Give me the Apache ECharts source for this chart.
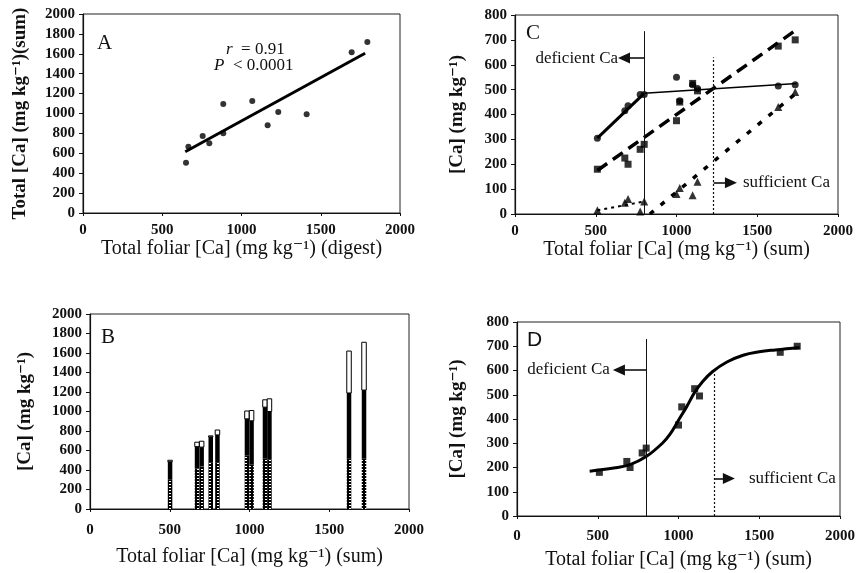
<!DOCTYPE html>
<html><head><meta charset="utf-8">
<script src="https://cdn.jsdelivr.net/npm/echarts@6/dist/echarts.min.js"></script>
<style>html,body{margin:0;padding:0;background:#fff}#c{width:859px;height:573px}</style>
</head><body><div id="c"></div>
<script>
// ---------- data ----------
// Panel A: total [Ca] by digest vs by sum
const aDigest = [650, 665, 755, 797, 885, 885, 1068, 1165, 1232, 1411, 1695, 1794];
const aSum    = [506, 667, 774, 700, 801, 1095, 1125, 881, 1015, 992, 1615, 1718];
const aFitX = [645, 1780];
const aFitY = [615, 1605];
// Panel B: bar positions (total foliar Ca, sum) and stacked fractions
const bBarX     = [502, 671, 700, 757, 799, 984, 1013, 1097, 1125, 1624, 1718];
// Panels C / D: samples
const sampleSum  = [510, 680, 700, 775, 800, 1000, 1020, 1100, 1130, 1630, 1735];
const caCircle   = [305, 415, 435, 480, 480, 550, 455, 520, 505, 515, 520];
const caSquare   = [180, 225, 200, 260, 280, 375, 450, 525, 495, 675, 700];
const caTriangle = [15, 45, 60, 10, 50, 80, 105, 75, 130, 430, 490];
// Panel C fitted lines
const cSolidThickX = [510, 800],  cSolidThickY = [305, 485];
const cSolidThinX  = [800, 1745], cSolidThinY  = [485, 525];
const cDashX = [510, 1730], cDashY = [175, 735];
const cDot1X = [510, 800],  cDot1Y = [15, 50];
const cDot2X = [835, 1730], cDot2Y = [0, 480];
// Panel D fitted curve
const dCurveX = [450, 600, 700, 800, 900, 950, 1000, 1050, 1100, 1150, 1210, 1300, 1400, 1500, 1600, 1750];
const dCurveY = [185, 198, 212, 245, 300, 340, 395, 450, 510, 555, 595, 635, 663, 677, 685, 695];
// thresholds and annotation anchors
const deficientCa = 800;
const sufficientCaC = 1230, sufficientCaD = 1220;
const cLineTop = [735, 630], dLineTop = [730, 610];
const cArrowDef = [675, 627], cArrowSuf = [1337, 126];
const dArrowDef = [631, 602], dArrowSuf = [1312, 155];
const xTickLabels = ['0', '500', '1000', '1500', '2000'];

// ---------- helpers ----------
const zip = (xs, ys) => xs.map((x, i) => [x, ys[i]]);
const SERIF = '"Liberation Serif", "DejaVu Serif", serif';

const pat = document.createElement('canvas');
pat.width = 4; pat.height = 3;
(function () {
  const g = pat.getContext('2d');
  g.fillStyle = '#000'; g.fillRect(0, 0, 4, 3);
  g.fillStyle = '#fff'; g.fillRect(1, 1, 2, 1);
})();

function xAx(gi, name, labelMargin, nameGap) {
  return {
    gridIndex: gi, type: 'value', min: 0, max: 2000, interval: 500,
    name: name, nameLocation: 'middle', nameGap: nameGap,
    nameTextStyle: { fontFamily: SERIF, fontSize: 20, color: '#111' },
    axisLine: { show: true, lineStyle: { color: '#111', width: 1.2 } },
    axisTick: { show: true, length: 3, lineStyle: { color: '#111' } },
    splitLine: { show: false },
    axisLabel: { margin: labelMargin, fontFamily: SERIF, fontWeight: 'bold', fontSize: 15, color: '#111',
      formatter: v => xTickLabels[Math.round(v / 500)] }
  };
}
function yAx(gi, name, max, interval, nameGap) {
  return {
    gridIndex: gi, type: 'value', min: 0, max: max, interval: interval,
    name: name, nameLocation: 'middle', nameGap: nameGap,
    nameTextStyle: { fontFamily: SERIF, fontSize: 19, fontWeight: 'bold', color: '#111' },
    axisLine: { show: true, lineStyle: { color: '#111', width: 1.2 } },
    axisTick: { show: true, length: 4, lineStyle: { color: '#111' } },
    splitLine: { show: false },
    axisLabel: { margin: 8, fontFamily: SERIF, fontWeight: 'bold', fontSize: 15, color: '#111',
      formatter: v => String(v) }
  };
}
const gridBase = { show: true, borderColor: '#222', borderWidth: 1, outerBoundsMode: 'none', containLabel: false };

function annot(xi, thrSolid, thrDot, tops, arrDef, arrSuf, defDist, sufDist) {
  const lbl = { show: true, fontFamily: SERIF, fontSize: 17, color: '#111' };
  const solid = { type: 'solid', width: 1, color: '#111' };
  const arrowLine = { type: 'solid', width: 1.6, color: '#111' };
  return {
    type: 'scatter', xAxisIndex: xi, yAxisIndex: xi, data: [], silent: true,
    color: '#111',
    markLine: {
      silent: true, animation: false, symbol: ['none', 'none'],
      lineStyle: { color: '#111' },
      itemStyle: { color: '#111' },
      data: [
        [{ coord: [thrSolid, 0], lineStyle: solid, label: { show: false } },
         { coord: [thrSolid, tops[0]] }],
        [{ coord: [thrDot, 0], lineStyle: { type: [2, 2], width: 1.2, color: '#111' }, label: { show: false } },
         { coord: [thrDot, tops[1]] }],
        [{ coord: [thrSolid, arrDef[1]], symbol: 'none', lineStyle: arrowLine, itemStyle: { color: '#111' },
           label: Object.assign({}, lbl, { position: 'end', distance: defDist, formatter: 'deficient Ca' }) },
         { coord: [arrDef[0], arrDef[1]], symbol: 'triangle', symbolSize: [11, 12], itemStyle: { color: '#111' } }],
        [{ coord: [thrDot, arrSuf[1]], symbol: 'none', lineStyle: arrowLine, itemStyle: { color: '#111' },
           label: Object.assign({}, lbl, { position: 'end', distance: sufDist, formatter: 'sufficient Ca' }) },
         { coord: [arrSuf[0], arrSuf[1]], symbol: 'triangle', symbolSize: [11, 12], itemStyle: { color: '#111' } }]
      ]
    }
  };
}

const letter = (t, l, tp, ff) => ({ type: 'text', left: l, top: tp,
  style: { text: t, font: '21px ' + (ff || SERIF), fill: '#111' } });

const option = {
  animation: false,
  backgroundColor: '#fff',
  grid: [
    Object.assign({ left: 83, top: 14, width: 317, height: 199 }, gridBase),
    Object.assign({ left: 90, top: 314, width: 319, height: 195 }, gridBase),
    Object.assign({ left: 515, top: 15, width: 323, height: 199 }, gridBase),
    Object.assign({ left: 517, top: 322, width: 323, height: 194 }, gridBase)
  ],
  xAxis: [
    xAx(0, 'Total foliar [Ca] (mg kg⁻¹) (digest)', 10, 24),
    xAx(1, 'Total foliar [Ca] (mg kg⁻¹) (sum)', 14, 38),
    xAx(2, 'Total foliar [Ca] (mg kg⁻¹) (sum)', 10, 23),
    xAx(3, 'Total foliar [Ca] (mg kg⁻¹) (sum)', 13, 34)
  ],
  yAxis: [
    yAx(0, 'Total [Ca] (mg kg⁻¹)(sum)', 2000, 200, 53),
    yAx(1, '[Ca] (mg kg⁻¹)', 2000, 200, 55),
    yAx(2, '[Ca] (mg kg⁻¹)', 800, 100, 48),
    yAx(3, '[Ca] (mg kg⁻¹)', 800, 100, 50)
  ],
  graphic: [
    letter('A', 97, 33),
    letter('B', 101, 327),
    letter('C', 526, 23),
    letter('D', 527, 330, '"Liberation Sans", Arial, sans-serif'),
    { type: 'text', left: 226, top: 41, style: { text: '{i|r}  = 0.91', font: '17px ' + SERIF, fill: '#111',
      rich: { i: { fontStyle: 'italic', fontFamily: SERIF, fontSize: 17 } } } },
    { type: 'text', left: 214, top: 57, style: { text: '{i|P}  < 0.0001', font: '17px ' + SERIF, fill: '#111',
      rich: { i: { fontStyle: 'italic', fontFamily: SERIF, fontSize: 17 } } } }
  ],
  series: [
    // Panel A
    { type: 'line', xAxisIndex: 0, yAxisIndex: 0, data: zip(aFitX, aFitY), showSymbol: false,
      lineStyle: { color: '#000', width: 3 } },
    { type: 'scatter', xAxisIndex: 0, yAxisIndex: 0, data: zip(aDigest, aSum), symbol: 'circle',
      symbolSize: 6, itemStyle: { color: '#000' } },
    // Panel B
    { type: 'custom', xAxisIndex: 1, yAxisIndex: 1,
      data: bBarX.map((x, i) => [x, caCircle[i], caSquare[i], caTriangle[i]]),
      encode: { x: 0, y: [1, 2, 3] },
      renderItem: function (params, api) {
        const x = api.value(0), c = api.value(1), s = api.value(2), t = api.value(3);
        const p0 = api.coord([x, 0]), p1 = api.coord([x, c]), p2 = api.coord([x, c + s]), p3 = api.coord([x, c + s + t]);
        const w = 4.5, x0 = p0[0] - w / 2;
        return { type: 'group', children: [
          { type: 'rect', shape: { x: x0, y: p1[1], width: w, height: p0[1] - p1[1] },
            style: { fill: { image: pat, repeat: 'repeat' } } },
          { type: 'rect', shape: { x: x0, y: p2[1], width: w, height: p1[1] - p2[1] }, style: { fill: '#000' } },
          { type: 'rect', shape: { x: x0, y: p3[1], width: w, height: p2[1] - p3[1] },
            style: { fill: '#fff', stroke: '#000', lineWidth: 1 } }
        ] };
      }
    },
    // Panel C fits
    { type: 'line', xAxisIndex: 2, yAxisIndex: 2, data: zip(cSolidThickX, cSolidThickY), showSymbol: false,
      lineStyle: { color: '#000', width: 3 } },
    { type: 'line', xAxisIndex: 2, yAxisIndex: 2, data: zip(cSolidThinX, cSolidThinY), showSymbol: false,
      lineStyle: { color: '#000', width: 1.5 } },
    { type: 'line', xAxisIndex: 2, yAxisIndex: 2, data: zip(cDashX, cDashY), showSymbol: false,
      lineStyle: { color: '#000', width: 3.5, type: [12, 7] } },
    { type: 'line', xAxisIndex: 2, yAxisIndex: 2, data: zip(cDot1X, cDot1Y), showSymbol: false,
      lineStyle: { color: '#000', width: 2, type: [3, 4] } },
    { type: 'line', xAxisIndex: 2, yAxisIndex: 2, data: zip(cDot2X, cDot2Y), showSymbol: false,
      lineStyle: { color: '#000', width: 3.5, type: [5, 9] } },
    // Panel C points
    { type: 'scatter', xAxisIndex: 2, yAxisIndex: 2, data: zip(sampleSum, caCircle), symbol: 'circle',
      symbolSize: 7, itemStyle: { color: '#000' } },
    { type: 'scatter', xAxisIndex: 2, yAxisIndex: 2, data: zip(sampleSum, caSquare), symbol: 'rect',
      symbolSize: 7, itemStyle: { color: '#000' } },
    { type: 'scatter', xAxisIndex: 2, yAxisIndex: 2, data: zip(sampleSum, caTriangle), symbol: 'triangle',
      symbolSize: 8, itemStyle: { color: '#000' } },
    annot(2, deficientCa, sufficientCaC, cLineTop, cArrowDef, cArrowSuf, 6, 12),
    // Panel D
    { type: 'line', xAxisIndex: 3, yAxisIndex: 3, data: zip(dCurveX, dCurveY), showSymbol: false, smooth: 0.4,
      lineStyle: { color: '#000', width: 3 } },
    { type: 'scatter', xAxisIndex: 3, yAxisIndex: 3, data: zip(sampleSum, caSquare), symbol: 'rect',
      symbolSize: 7, itemStyle: { color: '#000' } },
    annot(3, deficientCa, sufficientCaD, dLineTop, dArrowDef, dArrowSuf, 9, 20)
  ]
};
const chart = echarts.init(document.getElementById('c'), null, { renderer: 'canvas' });
chart.setOption(option);
</script>
</body></html>
